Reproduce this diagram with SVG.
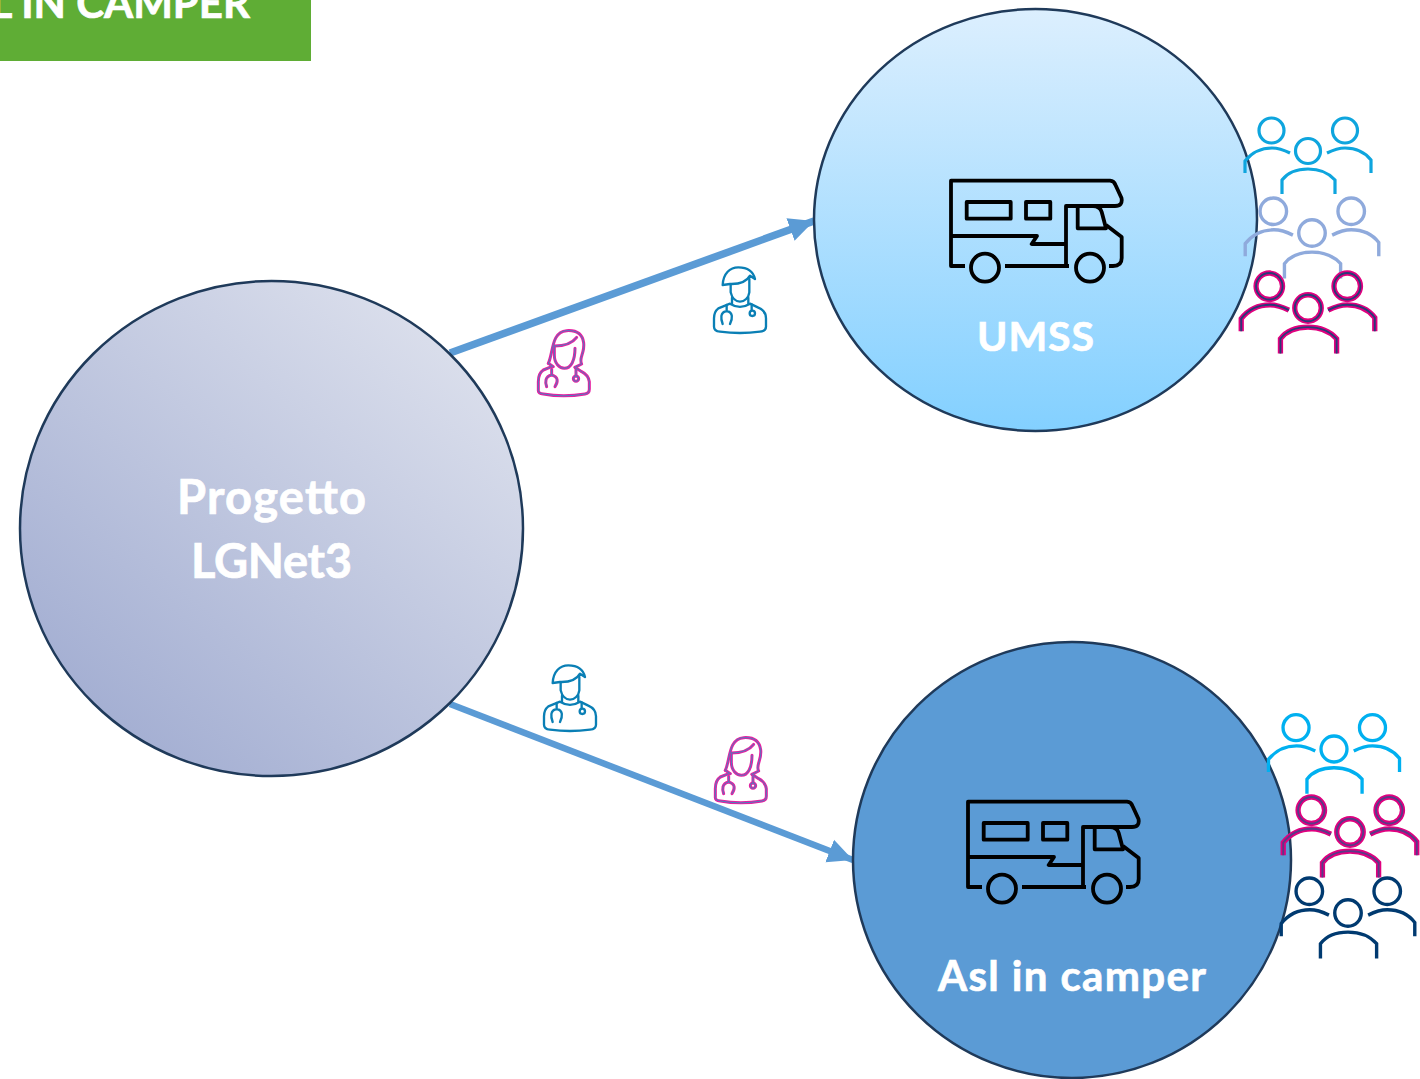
<svg xmlns="http://www.w3.org/2000/svg" xmlns:xlink="http://www.w3.org/1999/xlink" width="1420" height="1079" viewBox="0 0 1420 1079">
<style>
text{font-family:"Lato","Liberation Sans",sans-serif;font-weight:700;fill:#fff;stroke:#fff;stroke-width:.7;text-anchor:middle}
.n{stroke:#1f3a5a;stroke-width:2.500}
.cam{fill:none;stroke:#000;stroke-width:3.800;stroke-linejoin:round}
.doc{fill:none;stroke-linecap:round;stroke-linejoin:round}
.c{stroke:#5b9bd5;fill:none}
</style>
<defs>
<linearGradient id="g1" x1="0.15" y1="0.9" x2="0.85" y2="0.1"><stop offset="0" stop-color="#a3aed2"/><stop offset="1" stop-color="#dbdfec"/></linearGradient>
<linearGradient id="g2" x1="0" y1="0" x2="0" y2="1"><stop offset="0" stop-color="#dceffe"/><stop offset="1" stop-color="#83d0ff"/></linearGradient>
<marker id="a" markerUnits="userSpaceOnUse" markerWidth="26" markerHeight="26" refX="25" refY="13" orient="auto"><path d="M0 1 L25 13 L0 25Z" fill="#5b9bd5"/></marker>
<g id="ppl" fill="none">
<circle cx="-36.500" cy="-20.500" r="12.500"/><circle cx="37" cy="-20.500" r="12.500"/><circle cx="0" cy="0" r="12.500"/>
<path d="M-63 22V10C-55 0-45-3-36-3C-29-3-24-1-18 2"/>
<path d="M19 2C25-1 30-3 37-3C46-3 56 0 63 9V22"/>
<path d="M-26 43V29C-20 21-10 18 0 18C10 18 20 21 27 29V43"/>
</g>
<g id="camper" class="cam">
<path d="M35 106H21V20.700H180Q184 21 185.500 25L191.500 38Q193 46 185 46H136V106"/>
<path d="M75 106H139"/><circle cx="55" cy="107.700" r="14"/><circle cx="160" cy="107.700" r="14"/>
<rect x="36.700" y="42" width="44" height="16.700"/><rect x="96" y="42" width="24.300" height="16.700"/>
<path d="M21 76H107L101.700 84H136"/>
<path d="M147.700 46V68.300H176L171.700 52Q170 46 163 46"/>
<path d="M176 65L191.700 77V98Q191.700 106 183 106H179"/>
</g>
<g id="male">
<path d="M68 90C70 55 90 37 115 37C145 37 160 50 165 72L150 62C140 80 120 88 90 87Z"/>
<path d="M92 88V112C96 130 108 140 120 140C134 140 146 128 148 112V72"/>
<path d="M96 128V146M145 128V146"/>
<path d="M90 146L55 160Q42 170 42 190V215Q42 228 60 230Q120 238 180 230Q198 228 198 215V190Q198 168 175 158L150 146Q120 165 90 146Z"/>
<path d="M80 150V168C60 172 62 190 68 207M80 168C100 172 98 190 90 207M155 148V165"/>
<circle cx="157" cy="175" r="8"/>
</g>
<g id="female">
<path d="M70 130C85 100 78 35 125 32C155 30 172 42 176 68C180 100 160 115 170 132L150 142"/>
<path d="M70 130L85 140M88 78V105C88 130 103 145 118 145C138 145 150 122 150 85"/>
<path d="M88 78C110 78 140 72 155 52"/>
<path d="M80 140L55 150Q40 160 40 185V212Q40 220 55 222Q115 233 180 222Q193 220 193 208V185Q190 165 170 155L150 142"/>
<path d="M80 148V165C60 170 60 185 65 200M80 165C100 170 100 185 90 200M153 148V168"/>
<circle cx="153" cy="176" r="8"/>
</g>
</defs>
<g id="banner"><rect x="0" y="-30" width="311" height="91" fill="#5fad35"/><text x="250" y="18" font-size="42" style="text-anchor:end">L IN CAMPER</text></g>
<g id="connectors">
<path class="c" stroke-width="7.500" d="M450 353L814 221" marker-end="url(#a)"/>
<path class="c" stroke-width="6.500" d="M450 704L853 860" marker-end="url(#a)"/>
</g>
<g id="node-progetto"><ellipse class="n" cx="271.500" cy="528.500" rx="251.500" ry="247.500" fill="url(#g1)"/><text x="271.500" y="514" font-size="47" textLength="189">Progetto</text><text x="271.500" y="578" font-size="47" textLength="161">LGNet3</text></g>
<g id="node-umss"><ellipse class="n" cx="1035.500" cy="220" rx="221.500" ry="211" fill="url(#g2)"/><use href="#camper" transform="translate(930 160)"/><text x="1035.500" y="351" font-size="41" textLength="117">UMSS</text></g>
<g id="node-asl"><ellipse class="n" cx="1072" cy="860" rx="219" ry="218" fill="#5b9bd5"/><use href="#camper" transform="translate(947 781)"/><text x="1072" y="991" font-size="42" textLength="268">Asl in camper</text></g>
<g id="people-umss">
<use href="#ppl" transform="translate(1308 151)" stroke="#0ea5de" stroke-width="3.200"/>
<use href="#ppl" transform="translate(1312 233) scale(1.060)" stroke="#8faadc" stroke-width="3.200"/>
<use href="#ppl" transform="translate(1308 308) scale(1.060)" stroke="#e0007f" stroke-width="5"/>
<use href="#ppl" transform="translate(1308 308) scale(1.060)" stroke="#2a3a78" stroke-width="1.800"/>
</g>
<g id="people-asl">
<use href="#ppl" transform="translate(1334 749) scale(1.040)" stroke="#00b0f0" stroke-width="3.200"/>
<use href="#ppl" transform="translate(1350 832) scale(1.060)" stroke="#e0007f" stroke-width="5"/>
<use href="#ppl" transform="translate(1350 832) scale(1.060)" stroke="#5a3a88" stroke-width="1.800"/>
<use href="#ppl" transform="translate(1348 913) scale(1.060)" stroke="#003a70" stroke-width="3.200"/>
</g>
<g id="doctor-f1" class="doc"><use href="#female" transform="translate(525 320) scale(.3333)" stroke="#e61fa0" stroke-width="9"/><use href="#female" transform="translate(525 320) scale(.3333)" stroke="#4a7fc0" stroke-width="3"/></g>
<g id="doctor-m1" class="doc"><use href="#male" transform="translate(700 255) scale(.3333)" stroke="#0a7fb5" stroke-width="7"/></g>
<g id="doctor-m2" class="doc"><use href="#male" transform="translate(530 653) scale(.3333)" stroke="#0a7fb5" stroke-width="7"/></g>
<g id="doctor-f2" class="doc"><use href="#female" transform="translate(702 727) scale(.3333)" stroke="#e61fa0" stroke-width="9"/><use href="#female" transform="translate(702 727) scale(.3333)" stroke="#4a7fc0" stroke-width="3"/></g>
</svg>
